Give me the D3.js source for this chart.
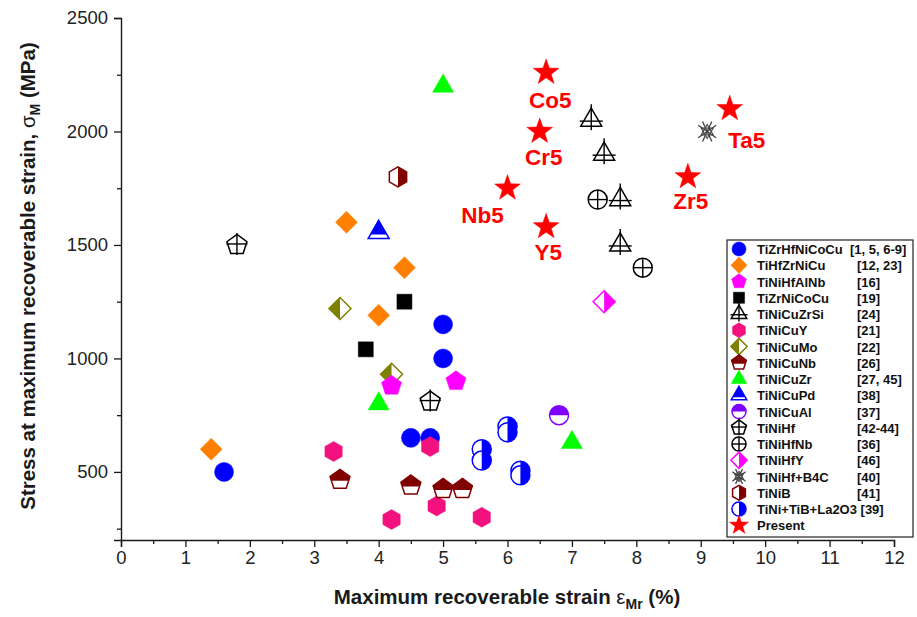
<!DOCTYPE html>
<html><head><meta charset="utf-8">
<script src="https://cdn.jsdelivr.net/npm/d3@7/dist/d3.min.js"></script>
<style>
html,body{margin:0;padding:0;background:#fff;}
svg{display:block;font-family:"Liberation Sans",Arial,sans-serif;}
</style></head>
<body>
<svg id="chart" width="917" height="617"></svg>
<script>
// ---------------- DATA ----------------
const seriesNames = ["TiZrHfNiCoCu","TiHfZrNiCu","TiNiHfAlNb","TiZrNiCoCu","TiNiCuZrSi","TiNiCuY","TiNiCuMo","TiNiCuNb","TiNiCuZr","TiNiCuPd","TiNiCuAl","TiNiHf","TiNiHfNb","TiNiHfY","TiNiHf+B4C","TiNiB","TiNi+TiB+La2O3 [39]","Present"];
const seriesRefs = ["[1, 5, 6-9]","[12, 23]","[16]","[19]","[24]","[21]","[22]","[26]","[27, 45]","[38]","[37]","[42-44]","[36]","[46]","[40]","[41]","",""];

const TiZrHfNiCoCu = [[1.6,500],[4.5,650],[4.8,650],[5.0,1150],[5.0,1000]];
const TiHfZrNiCu   = [[1.4,600],[3.5,1600],[4.4,1400],[4.0,1190]];
const TiNiHfAlNb   = [[4.2,880],[5.2,900]];
const TiZrNiCoCu   = [[4.4,1250],[3.8,1040]];
const TiNiCuZrSi   = [[7.3,2050],[7.5,1900],[7.75,1700],[7.75,1500]];
const TiNiCuY      = [[3.3,590],[4.8,612],[4.2,290],[4.9,350],[5.6,300]];
const TiNiCuMo     = [[3.4,1220],[4.2,930]];
const TiNiCuNb     = [[3.4,465],[4.5,440],[5.0,425],[5.3,425]];
const TiNiCuZr     = [[5.0,2200],[4.0,800],[7.0,630]];
const TiNiCuPd     = [[4.0,1555]];
const TiNiCuAl     = [[6.8,750]];
const TiNiHf       = [[1.8,1500],[4.8,810]];
const TiNiHfNb     = [[7.4,1700],[8.1,1400]];
const TiNiHfY      = [[7.5,1250]];
const TiNiHfB4C    = [[9.1,2000]];
const TiNiB        = [[4.3,1800]];
const TiNiTiBLa2O3 = [[5.6,600],[5.6,550],[6.0,700],[6.0,675],[6.2,505],[6.2,485]];

const presentAlloys = ["Co5","Cr5","Nb5","Y5","Zr5","Ta5"];
const presentStrain = [6.6,6.5,6.0,6.6,8.8,9.45];
const presentStress = [2260,2000,1750,1580,1800,2100];

const xTicks = [0,1,2,3,4,5,6,7,8,9,10,11,12];
const yTicks = [500,1000,1500,2000,2500];

// ---------------- STYLE ----------------
const seriesData = [TiZrHfNiCoCu,TiHfZrNiCu,TiNiHfAlNb,TiZrNiCoCu,TiNiCuZrSi,TiNiCuY,TiNiCuMo,TiNiCuNb,TiNiCuZr,TiNiCuPd,TiNiCuAl,TiNiHf,TiNiHfNb,TiNiHfY,TiNiHfB4C,TiNiB,TiNiTiBLa2O3,
  presentStrain.map((v,i)=>[v,presentStress[i]])];
const markers = [
  {shape:"circle", color:"#0000ff", fill:"full"},
  {shape:"diamond", color:"#ff8000", fill:"full"},
  {shape:"pentagon", color:"#ff00ff", fill:"full"},
  {shape:"square", color:"#000000", fill:"full"},
  {shape:"triangle", color:"#000000", fill:"open", extra:"cross"},
  {shape:"hexagon", color:"#f2117f", fill:"full"},
  {shape:"diamond", color:"#808000", fill:"left"},
  {shape:"pentagon", color:"#800000", fill:"top", cut:1},
  {shape:"triangle", color:"#00ff00", fill:"full"},
  {shape:"triangle", color:"#0000ff", fill:"top", cut:2},
  {shape:"circle", color:"#8000ff", fill:"top", cut:0},
  {shape:"pentagon", color:"#000000", fill:"open", extra:"cross"},
  {shape:"circle", color:"#000000", fill:"open", extra:"plus"},
  {shape:"diamond", color:"#ff00ff", fill:"right"},
  {shape:"asterisk", color:"#444444", fill:"open"},
  {shape:"hexagon", color:"#800000", fill:"right"},
  {shape:"circle", color:"#0000ff", fill:"right"},
  {shape:"star", color:"#ff0000", fill:"full"}
];
const drawOrder = [0,1,3,4,5,6,2,7,8,9,10,11,12,13,14,15,16,17];
const labelOffsets = {Co5:[4,28],Cr5:[4,26],Nb5:[-25,27],Y5:[2,25],Zr5:[3,24],Ta5:[17,31]};

const svg = d3.select("#chart");
const x = d3.scaleLinear().domain([0,12]).range([121,894]);
const y = d3.scaleLinear().domain([200,2500]).range([540,18]);

const defs = svg.append("defs");
function addClip(id, x0,y0,w,h){ defs.append("clipPath").attr("id",id).attr("clipPathUnits","userSpaceOnUse")
  .append("rect").attr("x",x0).attr("y",y0).attr("width",w).attr("height",h); }
addClip("cl-left",-40,-40,40,80);
addClip("cl-right",0,-40,40,80);
addClip("cl-top0",-40,-40,80,40);
addClip("cl-top1",-40,-40,80,41);
addClip("cl-top2",-40,-40,80,42);

function poly(n,R,start){ const pts=[]; for(let k=0;k<n;k++){const a=(start+360*k/n)*Math.PI/180; pts.push([R*Math.cos(a),R*Math.sin(a)]);} return "M"+pts.map(p=>p[0].toFixed(2)+","+p[1].toFixed(2)).join("L")+"Z"; }
function shapePath(shape, s){
  switch(shape){
    case "circle": { const r=9.5*s; return `M${-r},0A${r},${r} 0 1,0 ${r},0A${r},${r} 0 1,0 ${-r},0Z`; }
    case "square": { const h=7.5*s; return `M${-h},${-h}H${h}V${h}H${-h}Z`; }
    case "diamond": { const h=11*s; return `M0,${-h}L${h},0L0,${h}L${-h},0Z`; }
    case "triangle": { const a=21*s, H=a*Math.sqrt(3)/2; return `M0,${-2*H/3}L${a/2},${H/3}L${-a/2},${H/3}Z`; }
    case "pentagon": return poly(5,10.5*s,-90);
    case "hexagon": return poly(6,10*s,-90);
    case "star": { const R=13.5*s, r=5.4*s; const pts=[]; for(let k=0;k<10;k++){const a=(-90+36*k)*Math.PI/180; const rr=k%2?r:R; pts.push([rr*Math.cos(a),rr*Math.sin(a)]);} return "M"+pts.map(p=>p[0].toFixed(2)+","+p[1].toFixed(2)).join("L")+"Z"; }
  }
  return "";
}
function drawMarker(g, m, s){
  const sw = 1.5;
  if(m.shape==="asterisk"){
    const R=11*s;
    [35,65,115,145].forEach(ang=>{
      const a=ang*Math.PI/180;
      g.append("line").attr("x1",-R*Math.cos(a)).attr("y1",-R*Math.sin(a)).attr("x2",R*Math.cos(a)).attr("y2",R*Math.sin(a))
        .attr("stroke",m.color).attr("stroke-width",1.3);
    });
    g.append("path").attr("d",poly(3,7*s,-90)).attr("fill","none").attr("stroke",m.color).attr("stroke-width",1.1);
    g.append("path").attr("d",poly(3,7*s,90)).attr("fill","none").attr("stroke",m.color).attr("stroke-width",1.1);
    return;
  }
  const d = shapePath(m.shape, s);
  if(m.fill==="full"){
    g.append("path").attr("d",d).attr("fill",m.color).attr("stroke",m.color).attr("stroke-width",0.5);
  } else {
    g.append("path").attr("d",d).attr("fill","#fff").attr("stroke","none");
    if(m.fill!=="open"){
      const clip = m.fill==="top" ? "cl-top"+(m.cut||0) : "cl-"+m.fill;
      g.append("g").attr("clip-path",`url(#${clip})`).append("path").attr("d",d).attr("fill",m.color);
    }
    g.append("path").attr("d",d).attr("fill","none").attr("stroke",m.color).attr("stroke-width",sw);
  }
  if(m.extra==="cross"){
    const isTri = m.shape==="triangle";
    const top = isTri ? -16*s : -12*s, bot = 10*s, hy = isTri ? 1*s : -1*s, hw = isTri ? 11.5*s : 10.5*s;
    g.append("line").attr("x1",0).attr("y1",top).attr("x2",0).attr("y2",bot).attr("stroke",m.color).attr("stroke-width",1.4);
    g.append("line").attr("x1",-hw).attr("y1",hy).attr("x2",hw).attr("y2",hy).attr("stroke",m.color).attr("stroke-width",1.4);
  }
  if(m.extra==="plus"){
    const r=9.5*s;
    g.append("line").attr("x1",0).attr("y1",-r).attr("x2",0).attr("y2",r).attr("stroke",m.color).attr("stroke-width",1.4);
    g.append("line").attr("x1",-r).attr("y1",0).attr("x2",r).attr("y2",0).attr("stroke",m.color).attr("stroke-width",1.4);
  }
}

// ---------------- AXES ----------------
const axisColor = "#1a1a1a";
const gx = svg.append("g").attr("transform",`translate(0,${y(200)})`);
gx.call(d3.axisBottom(x).tickValues(xTicks).tickSize(7).tickPadding(4).tickFormat(d3.format("d")));
const gxm = svg.append("g").attr("transform",`translate(0,${y(200)})`);
gxm.call(d3.axisBottom(x).tickValues(d3.range(0.5,12,1)).tickSize(4).tickFormat(""));
const gy = svg.append("g").attr("transform",`translate(${x(0)},0)`);
gy.call(d3.axisLeft(y).tickValues(yTicks).tickSize(7).tickPadding(6).tickFormat(d3.format("d")));
const gym = svg.append("g").attr("transform",`translate(${x(0)},0)`);
gym.call(d3.axisLeft(y).tickValues(d3.range(250,2500,500)).tickSize(4).tickFormat(""));
[gx,gxm,gy,gym].forEach(g=>{
  g.selectAll(".domain").attr("stroke",axisColor).attr("stroke-width",1.4);
  g.selectAll(".tick line").attr("stroke",axisColor).attr("stroke-width",1.3);
  g.selectAll(".tick text").attr("fill","#222").style("font-size","18.5px").style("font-family","'Liberation Sans',Arial,sans-serif");
});
gxm.select(".domain").remove(); gym.select(".domain").remove();

// axis titles
const xt = svg.append("text").attr("x",507).attr("y",604).attr("text-anchor","middle")
  .style("font-size","20.5px").style("font-weight","bold").attr("fill","#1a1a1a");
xt.append("tspan").text("Maximum recoverable strain ");
xt.append("tspan").text("ε").style("font-weight","normal");
xt.append("tspan").text("Mr").attr("dy",5).style("font-size","14px");
xt.append("tspan").text(" (%)").attr("dy",-5);

const yt = svg.append("text").attr("transform","translate(35,276) rotate(-90)").attr("text-anchor","middle")
  .style("font-size","20.5px").style("font-weight","bold").attr("fill","#1a1a1a");
yt.append("tspan").text("Stress at maximum recoverable strain, ");
yt.append("tspan").text("σ").style("font-weight","normal");
yt.append("tspan").text("M").attr("dy",5).style("font-size","14px");
yt.append("tspan").text(" (MPa)").attr("dy",-5);

// ---------------- MARKS ----------------
const plot = svg.append("g");
drawOrder.forEach(i=>{
  seriesData[i].forEach(p=>{
    const g = plot.append("g").attr("transform",`translate(${x(p[0])},${y(p[1])})`);
    drawMarker(g, markers[i], 1);
  });
});
presentAlloys.forEach((name,i)=>{
  const off = labelOffsets[name];
  svg.append("text").attr("x",x(presentStrain[i])+off[0]).attr("y",y(presentStress[i])+off[1]+8)
    .attr("text-anchor","middle").style("font-size","22.5px").style("font-weight","bold").attr("fill","#ff0000").text(name);
});

// ---------------- LEGEND ----------------
const lg = svg.append("g");
const lgTop = 240, lgLeft = 727, rowH = 16.25, firstRow = 249;
lg.append("rect").attr("x",lgLeft).attr("y",lgTop).attr("width",186).attr("height",297)
  .attr("fill","#fff").attr("stroke","#222").attr("stroke-width",1.2);
seriesNames.forEach((name,i)=>{
  const cy = firstRow + i*rowH;
  const g = lg.append("g").attr("transform",`translate(${lgLeft+12},${cy})`);
  drawMarker(g, markers[i], 0.74);
  lg.append("text").attr("x",lgLeft+30).attr("y",cy+5).style("font-size","13px").style("font-weight","bold").attr("fill","#111").text(name);
  if(seriesRefs[i]) lg.append("text").attr("x", i===0 ? lgLeft+123 : lgLeft+130).attr("y",cy+5).style("font-size","13px").style("font-weight","bold").attr("fill","#111").text(seriesRefs[i]);
});
</script>
</body></html>
